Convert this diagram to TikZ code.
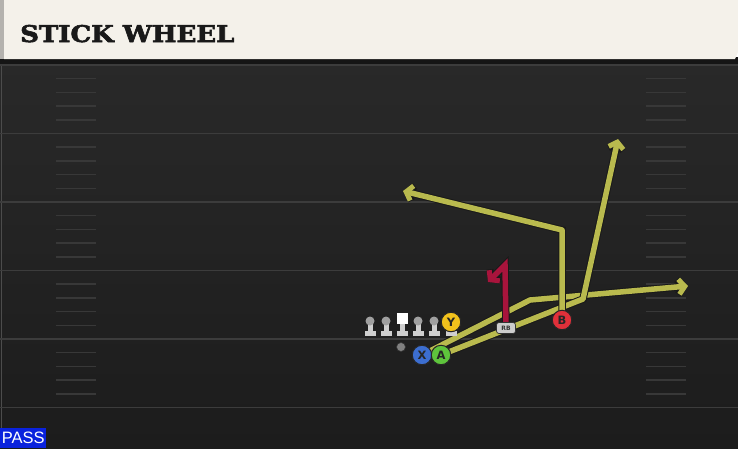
\documentclass[tikz,border=0pt]{standalone}
\usepackage{fontspec}
\usetikzlibrary{arrows.meta,calc}
\newfontfamily\titlefont{DejaVu Serif}[FakeBold=2.5]
\newfontfamily\labfont{DejaVu Sans}
\newfontfamily\passfont{Liberation Sans}
\definecolor{hdr}{HTML}{F4F1EA}
\definecolor{hdrside}{HTML}{B4B2AE}
\definecolor{band}{HTML}{151515}
\definecolor{fieldtop}{HTML}{292929}
\definecolor{fieldbot}{HTML}{1C1C1C}
\definecolor{yardline}{HTML}{3C3C3C}
\definecolor{hashc}{HTML}{383838}
\definecolor{routeyel}{HTML}{B9BA4E}
\definecolor{routered}{HTML}{A8143C}
\definecolor{xblue}{HTML}{3C6ED0}
\definecolor{agreen}{HTML}{5EC43C}
\definecolor{yyellow}{HTML}{F2C21C}
\definecolor{bred}{HTML}{E0303A}
\definecolor{linem}{HTML}{CFCFCF}
\definecolor{linehead}{HTML}{A0A0A0}
\definecolor{passblue}{HTML}{0A22DD}
\tikzset{
  player/.style={circle, draw=black!85, line width=1pt, minimum size=19.5pt, inner sep=0pt,
    font=\labfont\bfseries\fontsize{11.5}{11.5}\selectfont, text=black!85},
  route/.style={line width=5.5pt, draw=routeyel, line join=round,
    preaction={draw=black!90, line width=7.5pt, -{Straight Barb[length=6pt,width=15pt,line width=7pt]}}},
  rbroute/.style={route, draw=routered},
  tipx/.style={-{Straight Barb[length=6pt,width=15pt,line width=5pt]}},
  yard/.style={draw=yardline, line width=1.8pt},
  hashm/.style={draw=hashc, line width=1.5pt},
  lineman/.pic={
    \fill[linem] (-5.5,-5.5) rectangle (5.5,0);
    \fill[linem] (-2.5,-15) rectangle (2.5,-5);
    \fill[linehead] (0,-15) circle (4.5);
  },
  centerman/.pic={
    \fill[linem] (-5.5,-5.5) rectangle (5.5,0);
    \fill[linem] (-2.5,-13) rectangle (2.5,-5);
    \fill[white] (-5.5,-23.5) rectangle (5.5,-12.5);
  }
}
\begin{document}
\begin{tikzpicture}[x=1pt,y=-1pt]
\useasboundingbox (0,0) rectangle (738,448);
% field
\shade[top color=fieldtop, bottom color=fieldbot] (0,60) rectangle (738,448);
\draw[draw=black!70, line width=1pt] (1,60) -- (1,448);
% yard lines
\foreach \yy in {65,133.5,202,270.5,339,407.5} {
  \draw[yard] (0,\yy) -- (738,\yy);
}
% hash marks
\foreach \yy in {65,133.5,202,270.5,339} {
  \foreach \k in {1,2,3,4} {
    \draw[hashm] (56,\yy+13.7*\k) -- (96,\yy+13.7*\k);
    \draw[hashm] (646,\yy+13.7*\k) -- (686,\yy+13.7*\k);
  }
}
% header
\fill[band] (0,57) rectangle (738,64);
\fill[hdrside] (0,0) rectangle (4,59);
\fill[hdr] (4,0) -- (738,0) -- (738,52) -- (735,59) -- (4,59) -- cycle;
\node[anchor=base west, inner sep=0pt, text=black!90, xscale=1.13,
  font=\titlefont\bfseries\fontsize{23}{23}\selectfont] (title) at (20,42) {STICK WHEEL};
% waypoints
\coordinate (w1) at (530,300);
\coordinate (e1) at (688,286);
\coordinate (w2) at (583,299);
\coordinate (e2) at (618,139);
\coordinate (w3) at (562,230);
\coordinate (e3) at (403,191);
\coordinate (w4) at (505,265);
\coordinate (e4) at (488,282);
% player anchors
\coordinate (Xc) at (422,355);
\coordinate (Ac) at (441,355);
\coordinate (Bc) at (562,320);
\coordinate (RBc) at (506,328);
% routes
\draw[route, tipx] (Xc) -- (w1) -- (e1);
\draw[route, tipx] (Ac) -- (w2) -- (e2);
\draw[route, tipx] (Bc) -- (w3) -- (e3);
\draw[rbroute, line join=miter, tipx] (RBc) -- (w4) -- (e4);
% line
\pic (lt1) at (370,336) {lineman};
\pic (lt2) at (386,336) {lineman};
\pic (ctr) at (402,336) {centerman};
\pic (lt3) at (418,336) {lineman};
\pic (lt4) at (434,336) {lineman};
\fill[linem] (445.5,330.5) rectangle (456.5,336);
\node[player, fill=yyellow] (Y) at (451,322) {Y};
\node[circle, fill=black!50, draw=black!80, line width=0.6pt, minimum size=9pt, inner sep=0pt] (qb) at (401,347) {};
\node[player, fill=xblue] (X) at (Xc) {X};
\node[player, fill=agreen] (A) at (Ac) {A};
\node[player, fill=bred] (B) at (Bc) {B};
\node[draw=black!80, fill=black!20, line width=0.7pt, rounded corners=2.5pt, minimum width=19pt,
  minimum height=11pt, inner sep=0pt, text=black!80,
  font=\labfont\bfseries\fontsize{6}{6}\selectfont] (RB) at (RBc) {RB};
% pass label
\node[anchor=south west, fill=passblue, text=white, inner sep=0pt, minimum width=46pt,
  minimum height=20pt, font=\passfont\fontsize{16.5}{16.5}\selectfont] (pass) at (0,448) {PASS};
\end{tikzpicture}
\end{document}
